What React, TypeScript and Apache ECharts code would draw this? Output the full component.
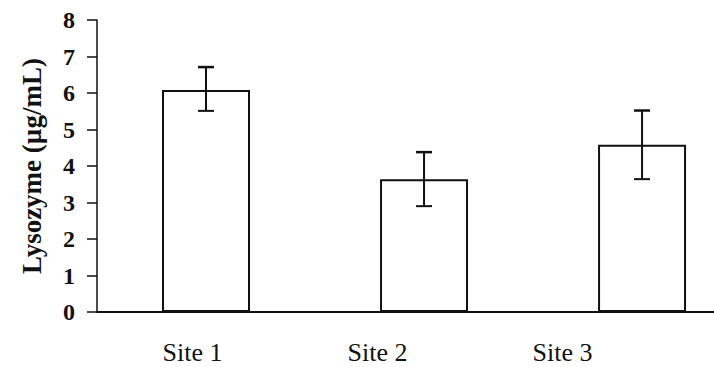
import React, { useEffect, useRef } from "react";
import * as echarts from "echarts";

const categories = ["Site 1", "Site 2", "Site 3"];
const positions = [0, 1, 2];
const means = [6.08, 3.64, 4.58];
const errLow = [5.51, 2.9, 3.64];
const errHigh = [6.71, 4.38, 5.52];
const yTicks = [0, 1, 2, 3, 4, 5, 6, 7, 8];

const ink = "#111";
const serif = "'Liberation Serif', 'DejaVu Serif', serif";

export default function App() {
  const ref = useRef<HTMLDivElement>(null);
  useEffect(() => {
    if (!ref.current) return;
    const chart = echarts.init(ref.current, undefined, { renderer: "svg" });
    chart.setOption({
      animation: false,
      backgroundColor: "#fff",
      grid: [
        { left: 97, right: 0, top: 20, bottom: 55 },
        { left: 100, right: 59, top: 20, bottom: 55 },
      ],
      xAxis: [
        {
          type: "value",
          gridIndex: 0,
          min: -0.5,
          max: 2.33,
          axisLine: { show: true, onZero: false, lineStyle: { color: ink, width: 2 } },
          axisTick: { show: false },
          axisLabel: { show: false },
          splitLine: { show: false },
        },
        {
          type: "category",
          gridIndex: 1,
          data: categories,
          axisLine: { show: false },
          axisTick: { show: false },
          axisLabel: {
            color: ink,
            fontFamily: serif,
            fontSize: 26,
            margin: 27,
          },
        },
      ],
      yAxis: [
        {
          type: "value",
          gridIndex: 0,
          min: yTicks[0],
          max: yTicks[yTicks.length - 1],
          interval: 1,
          name: "Lysozyme (µg/mL)",
          nameLocation: "middle",
          nameRotate: 90,
          nameGap: 52,
          nameTextStyle: {
            color: ink,
            fontFamily: serif,
            fontSize: 27,
            fontWeight: "bold",
          },
          axisLine: { show: true, onZero: false, lineStyle: { color: ink, width: 1.5 } },
          axisTick: { show: true, length: 10, lineStyle: { color: ink, width: 1.5 } },
          splitLine: { show: false },
          axisLabel: {
            color: ink,
            fontFamily: serif,
            fontSize: 24,
            fontWeight: "bold",
            margin: 22,
          },
        },
        {
          type: "value",
          gridIndex: 1,
          show: false,
          min: 0,
          max: 8,
          interval: 1,
        },
      ],
      series: [
        {
          type: "bar",
          xAxisIndex: 0,
          yAxisIndex: 0,
          data: positions.map((p, i) => [p, means[i]]),
          barWidth: 88,
          itemStyle: { color: "#fff", borderColor: ink, borderWidth: 2 },
          z: 2,
        },
        {
          type: "custom",
          xAxisIndex: 0,
          yAxisIndex: 0,
          data: positions.map((p, i) => [p, errLow[i], errHigh[i]]),
          z: 3,
          renderItem: (params: any, api: any) => {
            const lo = api.coord([api.value(0), api.value(1)]);
            const hi = api.coord([api.value(0), api.value(2)]);
            const half = 8;
            const style = { stroke: ink, lineWidth: 2 };
            return {
              type: "group",
              children: [
                { type: "line", shape: { x1: lo[0], y1: lo[1], x2: hi[0], y2: hi[1] }, style },
                { type: "line", shape: { x1: hi[0] - half, y1: hi[1], x2: hi[0] + half, y2: hi[1] }, style: { stroke: ink, lineWidth: 2.5 } },
                { type: "line", shape: { x1: lo[0] - half, y1: lo[1], x2: lo[0] + half, y2: lo[1] }, style },
              ],
            };
          },
        },
      ],
    });
    return () => chart.dispose();
  }, []);
  return <div ref={ref} style={{ width: 714, height: 367, position: "absolute", left: 0, top: 0 }} />;
}
